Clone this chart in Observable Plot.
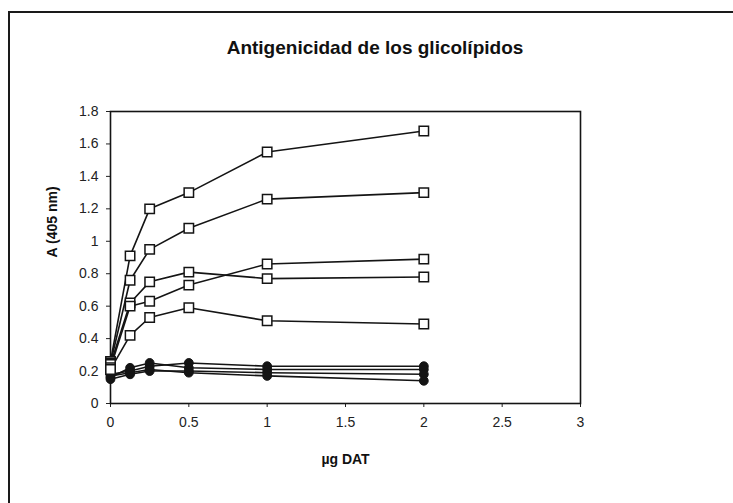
<!DOCTYPE html>
<html>
<head>
<meta charset="utf-8">
<script src="https://cdn.jsdelivr.net/npm/d3@7"></script>
<script src="https://cdn.jsdelivr.net/npm/@observablehq/plot@0.6"></script>
<style>
  html, body { margin: 0; padding: 0; background: #fff; overflow: hidden; }
  #wrap { position: relative; width: 733px; height: 503px; overflow: hidden; font-family: "Liberation Sans", Arial, sans-serif; }
  #border { position: absolute; left: 8px; top: 11px; width: 760px; height: 490px; border: 2px solid #1a1a1a; border-bottom: 1px solid #999; box-sizing: content-box; }
  #title { position: absolute; top: 37px; left: 0; width: 750px; text-align: center; font-size: 19px; font-weight: bold; color: #111; }
  #chart { position: absolute; left: 0; top: 0; }
</style>
</head>
<body>
<div id="wrap">
  <div id="border"></div>
  <div id="title">Antigenicidad de los glicolípidos</div>
  <div id="chart"></div>
</div>
<script>
// Dose (µg DAT)
const doses = [0, 0.125, 0.25, 0.5, 1, 2];

// Open-square series (absorbance at 405 nm)
const sq1 = [0.26, 0.91, 1.20, 1.30, 1.55, 1.68];
const sq2 = [0.25, 0.76, 0.95, 1.08, 1.26, 1.30];
const sq3 = [0.24, 0.62, 0.75, 0.81, 0.77, 0.78];
const sq4 = [0.22, 0.60, 0.63, 0.73, 0.86, 0.89];
const sq5 = [0.21, 0.42, 0.53, 0.59, 0.51, 0.49];

// Filled-circle series
const ci1 = [0.18, 0.20, 0.23, 0.25, 0.23, 0.23];
const ci2 = [0.16, 0.22, 0.25, 0.22, 0.21, 0.21];
const ci3 = [0.15, 0.18, 0.20, 0.20, 0.19, 0.18];
const ci4 = [0.17, 0.19, 0.21, 0.19, 0.17, 0.14];

const xTicks = [0, 0.5, 1, 1.5, 2, 2.5, 3];
const yTicks = [0, 0.2, 0.4, 0.6, 0.8, 1, 1.2, 1.4, 1.6, 1.8];

const squareSeries = {sq1, sq2, sq3, sq4, sq5};
const circleSeries = {ci1, ci2, ci3, ci4};

const toRows = (obj) => Object.entries(obj).flatMap(([name, vals]) =>
  vals.map((v, i) => ({series: name, x: doses[i], y: v})));
const squares = toRows(squareSeries);
const circles = toRows(circleSeries);

const ink = "#141414";

const plot = Plot.plot({
  width: 733,
  height: 503,
  marginLeft: 110,
  marginRight: 153,
  marginTop: 111,
  marginBottom: 100,
  style: {fontFamily: "'Liberation Sans', Arial, sans-serif", fontSize: "14px", color: "#222", background: "transparent"},
  x: {domain: [0, 3], ticks: xTicks, tickFormat: d => String(d), tickSize: 4, tickPadding: 10, label: null},
  y: {domain: [0, 1.8], ticks: yTicks, tickFormat: d => String(+d.toFixed(1)), tickSize: 4, tickPadding: 8, label: null},
  marks: [
    Plot.frame({stroke: ink, strokeWidth: 1.6}),
    Plot.line(circles, {x: "x", y: "y", z: "series", stroke: ink, strokeWidth: 1.6}),
    Plot.line(squares, {x: "x", y: "y", z: "series", stroke: ink, strokeWidth: 1.6}),
    Plot.dot(circles, {x: "x", y: "y", r: 4.4, fill: ink, stroke: ink, strokeWidth: 1}),
    Plot.dot(squares, {x: "x", y: "y", symbol: "square", r: 5.3, fill: "white", stroke: ink, strokeWidth: 1.5}),
    Plot.text(["µg DAT"], {frameAnchor: "bottom", dy: 60, fontWeight: "bold", fontSize: 14, fill: "#111"}),
    Plot.text(["A (405 nm)"], {frameAnchor: "left", dx: -58, rotate: -90, fontWeight: "bold", fontSize: 14, fill: "#111"})
  ]
});
document.getElementById("chart").appendChild(plot);
</script>
</body>
</html>
